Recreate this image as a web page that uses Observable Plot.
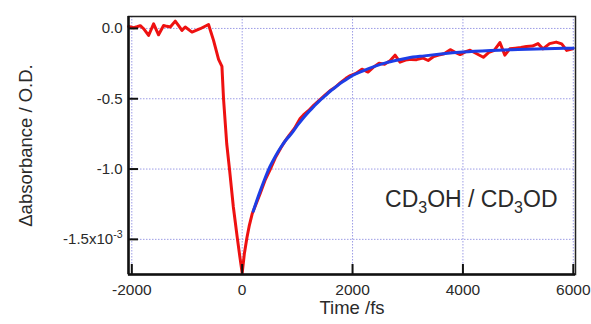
<!DOCTYPE html>
<html><head><meta charset="utf-8">
<script src="https://cdn.jsdelivr.net/npm/d3@7"></script>
<script src="https://cdn.jsdelivr.net/npm/@observablehq/plot@0.6"></script>
<style>body{margin:0;background:#fff}svg{display:block}</style>
</head><body><div id="chart"></div>
<script>
// Measured transient absorbance (units of 1e-3 O.D.)
const dataTime = [-2058,-1967,-1906,-1846,-1786,-1696,-1605,-1515,-1424,-1364,-1303,-1213,-1152,-1092,-1032,-910,-760,-610,
  -519,-428,-367,-338,-280,-230,-160,-85,-40,0,40,85,130,180,
  250,330,420,500,600,700,770,850,950,1050,1110,1200,1300,1400,1500,1600,1680,1780,1880,1960,
  2060,2170,2280,2380,2480,2580,2680,2770,2860,2960,3060,3160,3270,3370,3470,3560,3660,3770,3860,3950,
  4050,4130,4250,4370,4470,4570,4670,4760,4850,4950,5050,5150,5260,5360,5450,5570,5690,5790,5880,5990];
const dataSignal = [0.014,0.005,0.012,0.02,-0.002,-0.05,0.033,-0.045,0.021,0.015,0.01,0.052,0.02,-0.014,0.01,-0.026,-0.002,0.028,
  -0.085,-0.22,-0.27,-0.50,-0.82,-1.00,-1.27,-1.50,-1.63,-1.74,-1.60,-1.49,-1.40,-1.32,
  -1.25,-1.17,-1.075,-1.01,-0.92,-0.85,-0.805,-0.76,-0.71,-0.64,-0.615,-0.585,-0.545,-0.51,-0.475,-0.44,-0.42,-0.385,-0.355,-0.335,
  -0.32,-0.29,-0.31,-0.275,-0.247,-0.255,-0.23,-0.19,-0.24,-0.225,-0.22,-0.222,-0.21,-0.228,-0.20,-0.19,-0.18,-0.151,-0.17,-0.186,
  -0.165,-0.155,-0.18,-0.205,-0.17,-0.155,-0.10,-0.19,-0.145,-0.14,-0.135,-0.128,-0.125,-0.108,-0.145,-0.108,-0.097,-0.11,-0.156,-0.144];

// Fit curve
const fitTime = [200,300,400,500,600,700,800,900,1000,1100,1200,1300,1400,1500,1600,1700,1800,1900,2000,2200,2400,2600,2800,3000,3300,3600,4000,4500,5000,5500,6000];
const fitSignal = [-1.30,-1.185,-1.08,-0.985,-0.91,-0.845,-0.79,-0.745,-0.69,-0.64,-0.595,-0.555,-0.515,-0.48,-0.445,-0.415,-0.385,-0.36,-0.335,-0.30,-0.27,-0.245,-0.226,-0.21,-0.195,-0.182,-0.168,-0.157,-0.150,-0.144,-0.140];

const xTicks = [-2000, 0, 2000, 4000, 6000];
const xTickLabels = ["-2000", "0", "2000", "4000", "6000"];
const yTicks = [0, -0.5, -1, -1.5];
const yTickLabels = ["0.0", "-0.5", "-1.0", "-1.5x10-3"];
const xDomain = [-2060, 6040];
const yDomain = [-1.75, 0.085];
const xTitle = "Time /fs";
const yTitle = "Δabsorbance / O.D.";
const sampleLabel = "CD3OH / CD3OD";

const measured = dataTime.map((t, i) => ({t, v: dataSignal[i]}));
const fit = fitTime.map((t, i) => ({t, v: fitSignal[i]}));

const gridStyle = {stroke: "#9c9ce6", strokeOpacity: 1, strokeWidth: 1, strokeDasharray: "1.5,1.5"};

const chart = Plot.plot({
  width: 591, height: 324,
  marginLeft: 128, marginRight: 16, marginTop: 16, marginBottom: 50,
  style: {fontFamily: "'Liberation Sans', Arial, Helvetica, sans-serif", color: "#2a2a2a", background: "#fff", overflow: "visible"},
  x: {domain: xDomain},
  y: {domain: yDomain},
  marks: [
    Plot.gridX(xTicks, gridStyle),
    Plot.gridY(yTicks, gridStyle),
    Plot.line(measured, {x: "t", y: "v", stroke: "#ee1111", strokeWidth: 3, curve: "linear"}),
    Plot.line(fit, {x: "t", y: "v", stroke: "#1d3ee6", strokeWidth: 3, curve: "monotone-x"}),
    Plot.frame({stroke: "#222", strokeWidth: 1.5}),
    Plot.ruleX([xDomain[0]], {stroke: "#111", strokeWidth: 2.5}),
    Plot.ruleY([yDomain[0]], {stroke: "#111", strokeWidth: 2.5}),
    Plot.tickX(xTicks, {x: d => d, insetTop: 248, stroke: "#111", strokeWidth: 2}),
    Plot.tickY(yTicks, {y: d => d, insetRight: 437, stroke: "#111", strokeWidth: 2}),
    Plot.axisX(xTicks, {tickSize: 0, tickPadding: 9, fontSize: 15.5, label: null, tickFormat: d => xTickLabels[xTicks.indexOf(d)]}),
    Plot.axisY(yTicks, {tickSize: 0, tickPadding: 6, fontSize: 15, label: null, tickFormat: d => yTickLabels[yTicks.indexOf(d)]}),
    Plot.text([yTitle], {text: d => d, frameAnchor: "left", textAnchor: "middle", lineAnchor: "middle", rotate: -90, dx: -102, fontSize: 18.5, fill: "#2a2a2a"}),
    Plot.text([xTitle], {text: d => d, frameAnchor: "bottom", textAnchor: "middle", dy: 39, lineAnchor: "bottom", fontSize: 18.5, fill: "#2a2a2a"}),
    Plot.text([sampleLabel], {text: d => d, frameAnchor: "bottom-right", dx: -18, dy: -68, textAnchor: "end", lineAnchor: "bottom", fontSize: 23, fill: "#2a2a2a"})
  ]
});

// Superscript / subscript formatting
d3.select(chart).selectAll("text").each(function() {
  const el = d3.select(this);
  const s = el.text();
  if (s === "-1.5x10-3") {
    el.text("");
    el.append("tspan").text("-1.5x10");
    el.append("tspan").attr("dy", "-6").attr("font-size", "10.5").text("-3");
  } else if (s === sampleLabel) {
    el.text("");
    el.append("tspan").text("CD");
    el.append("tspan").attr("dy", "6").attr("font-size", "16").text("3");
    el.append("tspan").attr("dy", "-6").text("OH / CD");
    el.append("tspan").attr("dy", "6").attr("font-size", "16").text("3");
    el.append("tspan").attr("dy", "-6").text("OD");
  }
});

document.getElementById("chart").appendChild(chart);
</script>
</body></html>
